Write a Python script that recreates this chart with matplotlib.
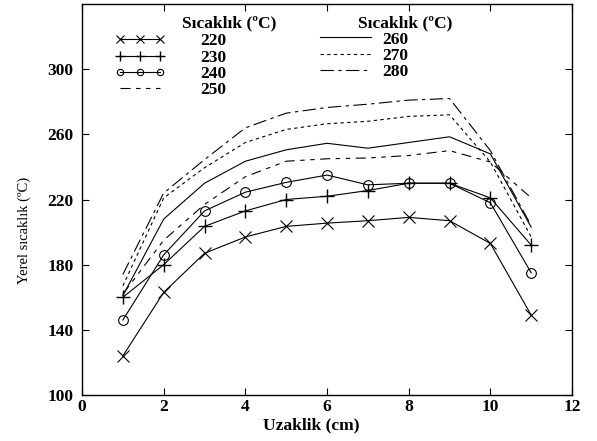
import matplotlib
matplotlib.use('Agg')
import matplotlib.pyplot as plt

plt.rcParams['font.family'] = ['Liberation Serif', 'DejaVu Serif']

# ── data ──
dist = [1, 2, 3, 4, 5, 6, 7, 8, 9, 10, 11]
t220 = [124, 163, 187, 197, 203.5, 205.5, 207, 209, 207, 193, 149]
t230 = [160, 180, 203.5, 213, 220, 222, 225.5, 230, 230, 221, 192]
t240 = [146, 186, 213, 224.5, 230.5, 235, 229, 230, 230, 218, 175]
t250 = [162, 195, 217, 234, 243.5, 245, 245.5, 247, 250, 243, 221]
t260 = [161, 208, 230, 243.5, 250.5, 254.5, 251.5, 255, 258.5, 248, 203]
t270 = [167, 221, 239.5, 255, 263, 266.5, 268, 271, 272, 243, 197]
t280 = [174, 224, 244.5, 264, 273, 276.5, 278.5, 281, 282, 250, 204]
labels1 = ['220', '230', '240', '250']
labels2 = ['260', '270', '280']

fig = plt.figure(figsize=(5.97, 4.41), dpi=100)
ax = fig.add_axes([0.1374, 0.1043, 0.8208, 0.8866])

lw = 0.8
h220, = ax.plot(dist, t220, color='black', lw=lw, marker='x', ms=9, mew=0.8)
h230, = ax.plot(dist, t230, color='black', lw=lw, marker='+', ms=10, mew=1.0)
h240, = ax.plot(dist, t240, color='black', lw=lw, marker='o', ms=7, mfc='none', mew=0.8)
h250, = ax.plot(dist, t250, color='black', lw=lw, dashes=(9, 5, 4, 5, 4, 5))
h260, = ax.plot(dist, t260, color='black', lw=lw)
h270, = ax.plot(dist, t270, color='black', lw=lw, dashes=(3, 3))
h280, = ax.plot(dist, t280, color='black', lw=lw, dashes=(12, 4, 3, 4))

ax.set_xlim(0, 12)
ax.set_ylim(100, 340)
ax.set_xticks(range(0, 13, 2))
ax.set_yticks(range(100, 301, 40))
ax.tick_params(direction='in', top=True, right=True, length=5, width=0.8,
               labelsize=12.5)
ax.tick_params(axis='y', pad=6)
ax.tick_params(axis='x', pad=3)
for lbl in ax.get_xticklabels() + ax.get_yticklabels():
    lbl.set_fontweight('bold')
for s in ax.spines.values():
    s.set_linewidth(1.0)

ax.set_xlabel('Uzaklik (cm)', fontsize=12.5, fontweight='bold')
ax.xaxis.set_label_coords(0.467, -0.058)
ax.set_ylabel('Yerel sıcaklık (ºC)', fontsize=10.5)
ax.yaxis.set_label_coords(-0.104, 0.42)

# legends
fs = 12.5
lg1 = ax.legend([h220, h230, h240, h250], labels1, loc='upper left',
                bbox_to_anchor=(0.067, 0.925), frameon=False, borderpad=0,
                borderaxespad=0, handlelength=2.9, handletextpad=2.0,
                labelspacing=0.0, numpoints=3, markerscale=0.65,
                prop={'size': fs, 'weight': 'bold'})
ax.add_artist(lg1)
ax.legend([h260, h270, h280], labels2, loc='upper left',
          bbox_to_anchor=(0.486, 0.93), frameon=False, borderpad=0,
          borderaxespad=0, handlelength=2.9, handletextpad=0.7,
          labelspacing=0.0, prop={'size': fs, 'weight': 'bold'})
ax.text(0.30, 0.95, 'Sıcaklık (ºC)', transform=ax.transAxes, ha='center',
        va='center', fontsize=fs, fontweight='bold')
ax.text(0.659, 0.95, 'Sıcaklık (ºC)', transform=ax.transAxes, ha='center',
        va='center', fontsize=fs, fontweight='bold')

fig.savefig('out.png', dpi=100)
